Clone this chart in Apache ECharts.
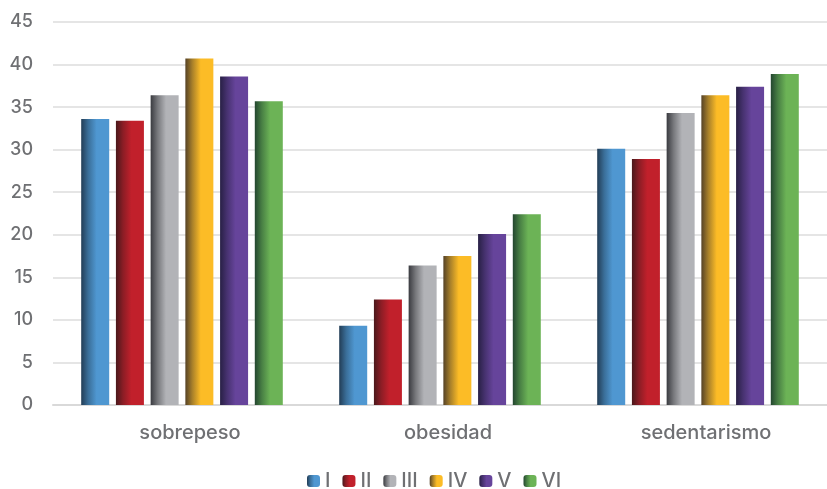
<!DOCTYPE html>
<html>
<head>
<meta charset="utf-8">
<script src="https://cdn.jsdelivr.net/npm/echarts@6/dist/echarts.min.js"></script>
<style>
  html, body { margin: 0; padding: 0; background: #fff; }
  #chart { width: 827px; height: 489px; }
</style>
</head>
<body>
<div id="chart"></div>
<script>
// Categories along the x axis
const categories = ['sobrepeso', 'obesidad', 'sedentarismo'];

// Series names (legend) and their values per category
const seriesNames = ['I', 'II', 'III', 'IV', 'V', 'VI'];
const valuesI   = [33.6,  9.3, 30.1];
const valuesII  = [33.4, 12.4, 28.9];
const valuesIII = [36.4, 16.4, 34.3];
const valuesIV  = [40.7, 17.5, 36.4];
const valuesV   = [38.6, 20.1, 37.4];
const valuesVI  = [35.7, 22.4, 38.9];

// Value axis range
const yMin = 0;
const yMax = 45;
const yStep = 5;

// Shaded colours per series: dark edge, mid tone, base colour
const palette = [
  ['#223d56', '#3a6e98', '#4f97d1'],
  ['#4a181b', '#8a1d25', '#c1202b'],
  ['#3a3b40', '#77787c', '#b2b3b7'],
  ['#554226', '#a8802a', '#fcbc26'],
  ['#282045', '#473270', '#66449b'],
  ['#23462f', '#487f44', '#6cb356']
];

function shade(c) {
  return new echarts.graphic.LinearGradient(0, 0, 1, 0, [
    { offset: 0, color: c[0] },
    { offset: 0.25, color: c[1] },
    { offset: 0.55, color: c[2] },
    { offset: 1, color: c[2] }
  ]);
}

const allValues = [valuesI, valuesII, valuesIII, valuesIV, valuesV, valuesVI];

const textColor = '#6f7073';
const fontFamily = 'Inter, "DejaVu Sans", sans-serif';

const chart = echarts.init(document.getElementById('chart'));
chart.setOption({
  animation: false,
  grid: { left: 53, right: -8, top: 22, bottom: 84, containLabel: false },
  legend: {
    left: 302,
    top: 466,
    itemWidth: 13,
    itemHeight: 12,
    itemGap: 12,
    textStyle: { color: textColor, fontSize: 20, fontWeight: 500, fontFamily: fontFamily },
    data: seriesNames
  },
  xAxis: {
    type: 'category',
    data: categories,
    axisTick: { show: false },
    axisLine: { show: true, lineStyle: { color: '#d9d9d9', width: 2 } },
    axisLabel: {
      color: textColor, fontSize: 20, fontWeight: 500, fontFamily: fontFamily,
      margin: 18, padding: [0, 0, 0, 16]
    }
  },
  yAxis: {
    type: 'value',
    min: yMin,
    max: yMax,
    interval: yStep,
    axisLine: { show: false },
    axisTick: { show: false },
    splitLine: { lineStyle: { color: '#dcdcdc', width: 1.5 } },
    axisLabel: { color: textColor, fontSize: 18, fontWeight: 500, fontFamily: fontFamily, margin: 20 }
  },
  series: seriesNames.map((name, i) => ({
    name: name,
    type: 'bar',
    data: allValues[i],
    barWidth: 28,
    barGap: '24%',
    itemStyle: { color: shade(palette[i]) }
  }))
});
</script>
</body>
</html>
